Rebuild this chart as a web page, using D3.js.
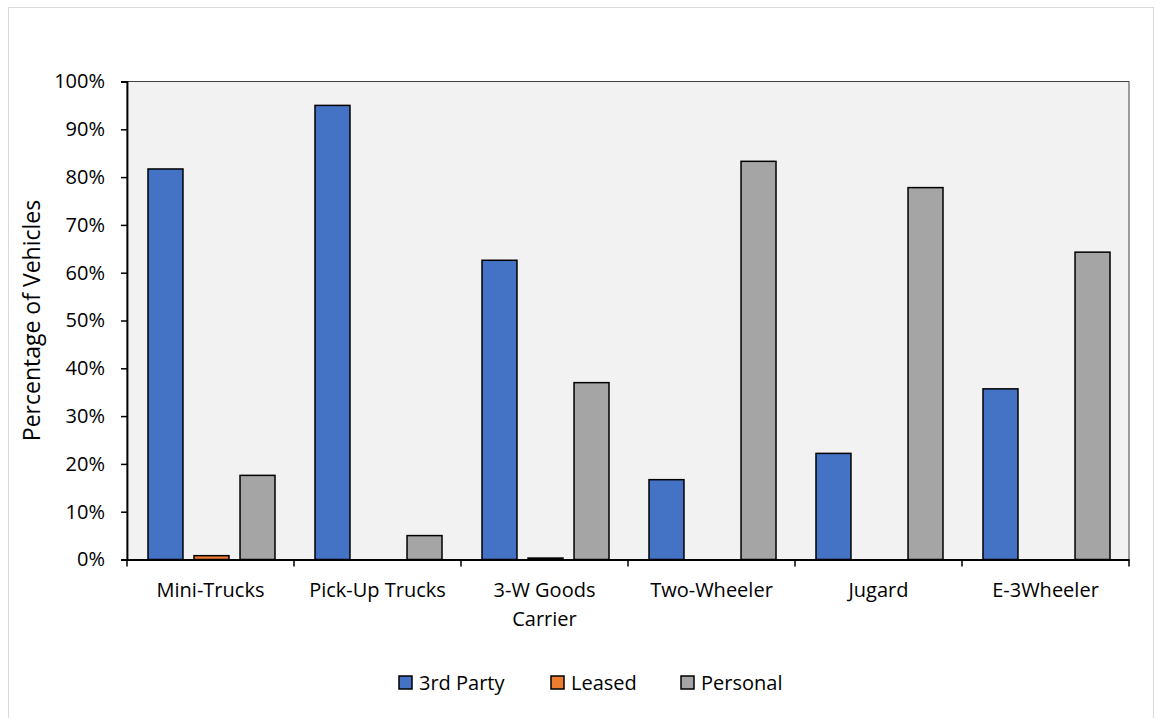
<!DOCTYPE html>
<html>
<head>
<meta charset="utf-8">
<script src="https://cdn.jsdelivr.net/npm/d3@7"></script>
<style>
  body { margin: 0; background: #fff; }
  text { font-family: "Open Sans", "Noto Sans", sans-serif; fill: #000; }
</style>
</head>
<body>
<div id="chart"></div>
<script>
// chart data
const categories = ["Mini-Trucks", "Pick-Up Trucks", "3-W Goods Carrier", "Two-Wheeler", "Jugard", "E-3Wheeler"];
const seriesNames = ["3rd Party", "Leased", "Personal"];
const thirdParty = [81.7, 95.0, 62.6, 16.7, 22.2, 35.7];
const leased = [0.8, 0, 0.3, 0, 0, 0];
const personal = [17.6, 5.0, 37.0, 83.3, 77.8, 64.3];
const yTicks = [0, 10, 20, 30, 40, 50, 60, 70, 80, 90, 100];
const colors = ["#4472C4", "#ED7D31", "#A5A5A5"];

const W = 1156, H = 718;
const plotLeft = 127, plotRight = 1129, plotTop = 81.5, plotBottom = 559.5;

const svg = d3.select("#chart").append("svg")
  .attr("width", W).attr("height", H);

// outer chart border
svg.append("rect")
  .attr("x", 8.5).attr("y", 7.5)
  .attr("width", 1145).attr("height", 720)
  .attr("fill", "none").attr("stroke", "#d9d9d9");

// plot area
svg.append("rect")
  .attr("x", plotLeft).attr("y", plotTop)
  .attr("width", plotRight - plotLeft).attr("height", plotBottom - plotTop)
  .attr("fill", "#F2F2F2").attr("stroke", "#404040").attr("stroke-width", 1);

const x = d3.scaleBand().domain(categories).range([plotLeft, plotRight]);
const x1 = d3.scaleBand().domain(seriesNames).range([21, x.bandwidth() - 19]).paddingInner(0.24);
const y = d3.scaleLinear().domain([0, 100]).range([plotBottom, plotTop]);

const rows = categories.map((c, i) => ({
  cat: c,
  vals: [thirdParty[i], leased[i], personal[i]]
}));

// bars
const groups = svg.append("g").selectAll("g")
  .data(rows).enter().append("g")
  .attr("transform", d => `translate(${x(d.cat)},0)`);

groups.selectAll("rect")
  .data(d => d.vals.map((v, k) => ({ v, k })).filter(e => e.v > 0))
  .enter().append("rect")
  .attr("x", d => x1(seriesNames[d.k]))
  .attr("width", x1.bandwidth())
  .attr("y", d => y(d.v))
  .attr("height", d => plotBottom - y(d.v))
  .attr("fill", d => colors[d.k])
  .attr("stroke", "#000").attr("stroke-width", 1.5);

// y axis
const yAxis = svg.append("g")
  .attr("transform", `translate(${plotLeft},0)`)
  .call(d3.axisLeft(y).tickValues(yTicks).tickFormat(d => d + "%").tickSize(6).tickPadding(16));
yAxis.select(".domain").attr("stroke", "#000").attr("stroke-width", 1.8);
yAxis.selectAll(".tick line").attr("stroke", "#000").attr("stroke-width", 1.5);
yAxis.selectAll(".tick text").style("font-size", "20px").style("font-family", "'Open Sans', sans-serif");

// x axis
const xAxis = svg.append("g")
  .attr("transform", `translate(0,${plotBottom})`)
  .call(d3.axisBottom(x).tickSize(0).tickFormat(""));
xAxis.select(".domain").attr("stroke", "#000").attr("stroke-width", 1.8);

// category separator ticks
const edges = categories.map(c => x(c)).concat([plotRight]);
svg.append("g").selectAll("line")
  .data(edges).enter().append("line")
  .attr("x1", d => d).attr("x2", d => d)
  .attr("y1", plotBottom).attr("y2", plotBottom + 7)
  .attr("stroke", "#000").attr("stroke-width", 1.5);

// category labels (wrapped like the original)
const labelLines = { "3-W Goods Carrier": ["3-W Goods", "Carrier"] };
categories.forEach(c => {
  const lines = labelLines[c] || [c];
  const cx = x(c) + x.bandwidth() / 2;
  lines.forEach((ln, i) => {
    svg.append("text")
      .attr("x", cx)
      .attr("y", 590 + i * 29)
      .attr("dy", "0.35em")
      .attr("text-anchor", "middle")
      .style("font-size", "20px")
      .text(ln);
  });
});

// y axis title
svg.append("text")
  .attr("transform", `translate(40,${(plotTop + plotBottom) / 2}) rotate(-90)`)
  .attr("text-anchor", "middle")
  .style("font-size", "23px")
  .text("Percentage of Vehicles");

// legend
const legendX = [399, 551, 681];
const legend = svg.append("g").selectAll("g")
  .data(seriesNames).enter().append("g")
  .attr("transform", (d, i) => `translate(${legendX[i]},676)`);
legend.append("rect")
  .attr("width", 13).attr("height", 13)
  .attr("fill", (d, i) => colors[i])
  .attr("stroke", "#000").attr("stroke-width", 1.5);
legend.append("text")
  .attr("x", 20).attr("y", 6.5).attr("dy", "0.35em")
  .style("font-size", "20px")
  .text(d => d);
</script>
</body>
</html>
